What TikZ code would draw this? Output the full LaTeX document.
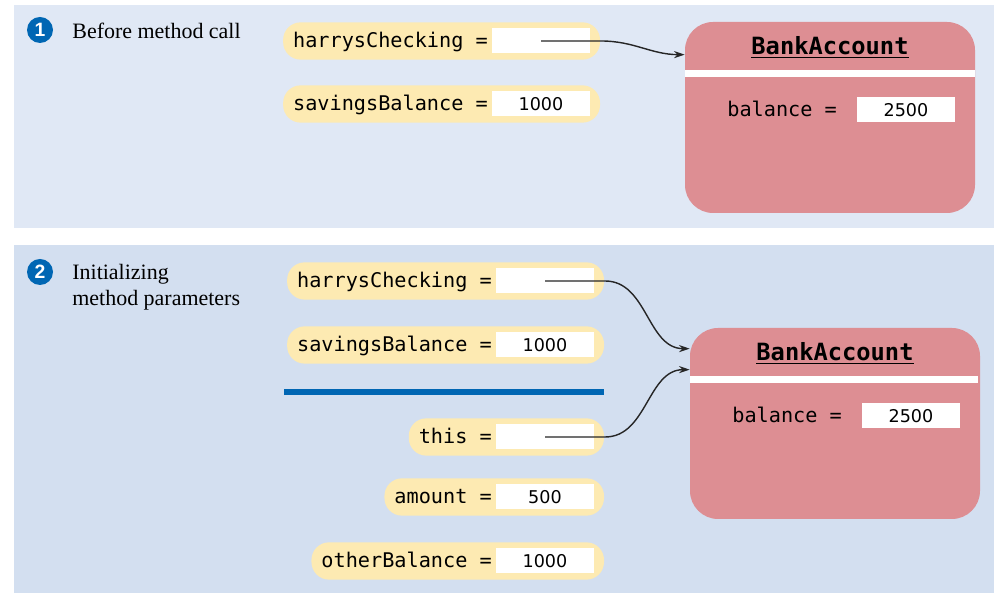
\documentclass[tikz,border=0pt]{standalone}
\usepackage{fontspec}
\setmainfont{Liberation Serif}
\newfontfamily\codefont{DejaVu Sans Mono}
\newfontfamily\valfont{DejaVu Sans}
\newfontfamily\stepfont{Liberation Sans}
\usetikzlibrary{arrows.meta, fit, backgrounds}

\definecolor{panelA}{RGB}{224,232,245}
\definecolor{panelB}{RGB}{211,223,240}
\definecolor{pillyellow}{RGB}{253,234,178}
\definecolor{acctred}{RGB}{221,142,147}
\definecolor{stepblue}{RGB}{0,102,179}
\def\px{0.02cm}

\pgfdeclarelayer{back}
\pgfsetlayers{back,background,main}

\begin{document}
\begin{tikzpicture}[x=\px, y=\px, >={Stealth[length=6pt, width=4pt]},
    pill/.style={fill=pillyellow, rounded corners=10pt, inner xsep=5.5pt, inner ysep=3.3pt},
    varname/.style={font=\codefont\fontsize{11.5}{13}\selectfont, inner sep=0pt, text height=9pt, text depth=2pt, anchor=east},
    valbox/.style={fill=white, minimum width=98*\px, minimum height=25*\px, inner sep=0pt, font=\valfont\fontsize{10}{12}\selectfont},
    acctbox/.style={fill=acctred, rounded corners=16pt, minimum width=290*\px, minimum height=191*\px},
    accttitle/.style={font=\codefont\bfseries\fontsize{13.5}{16}\selectfont, inner sep=0pt},
    ptr/.style={->, line width=0.8pt, black!85},
    stepnum/.style={circle, fill=stepblue, text=white, minimum size=26*\px, inner sep=0pt, font=\stepfont\bfseries\fontsize{11}{13}\selectfont},
    steptext/.style={font=\fontsize{12.5}{14.7}\selectfont, inner sep=0pt, align=left, anchor=north west}]

    \useasboundingbox (0,0) rectangle (998,594);

    % === 背景面板 ===
    \begin{pgfonlayer}{back}
    \fill[panelA] (14,366) rectangle (994,589);
    \fill[panelB] (14,1) rectangle (994,349);
    \end{pgfonlayer}

    % === 第一步：呼叫前 ===
    \node[stepnum] (step1) at (40,564) {1};
    \node[steptext] (note1) at (72,571) {Before method call};

    \foreach \nm/\y/\lab/\val in {hc1/553/harrysChecking =/{}, sb1/490/savingsBalance =/1000} {
        \node[valbox] (\nm-v) at (541,\y) {\val};
        \node[varname] (\nm-l) at ([xshift=-2pt]\nm-v.west) {\lab};
        \begin{pgfonlayer}{background}
        \node[pill, fit=(\nm-l)(\nm-v)] (\nm) {};
        \end{pgfonlayer}
    }

    % BankAccount 物件
    \node[acctbox] (acct1) at (830,476.5) {};
    \fill[white] (685,517) rectangle (975,524);
    \node[accttitle] (title1) at (830,547) {\underline{BankAccount}};
    \node[varname, anchor=west] (bal1-l) at (727,484) {balance =};
    \node[valbox] (bal1-v) at (906,484) {2500};

    \draw[ptr] (hc1-v.center) -- ++(60,0) to[out=0, in=180] ([yshift=-33*\px]acct1.north west);

    % === 第二步：參數初始化 ===
    \node[stepnum] (step2) at (40,322) {2};
    \node[steptext] (note2) at (72,330) {Initializing\\method parameters};

    \foreach \nm/\y/\lab/\val in {hc2/313/harrysChecking =/{}, sb2/249/savingsBalance =/1000,
                                  th2/157/this =/{}, am2/97/amount =/500, ob2/33/otherBalance =/1000} {
        \node[valbox] (\nm-v) at (545,\y) {\val};
        \node[varname] (\nm-l) at ([xshift=-2pt]\nm-v.west) {\lab};
        \begin{pgfonlayer}{background}
        \node[pill, fit=(\nm-l)(\nm-v)] (\nm) {};
        \end{pgfonlayer}
    }

    % 藍色分隔線
    \fill[stepblue] (284,199) rectangle (604,205);

    \begin{scope}[shift={(5,-306)}]
    \node[acctbox] (acct2) at (830,476.5) {};
    \fill[white] (685,517) rectangle (973,524);
    \node[accttitle] (title2) at (830,547) {\underline{BankAccount}};
    \node[varname, anchor=west] (bal2-l) at (727,484) {balance =};
    \node[valbox] (bal2-v) at (906,484) {2500};
    \end{scope}

    \draw[ptr] (hc2-v.center) -- ++(60,0) to[out=0, in=180] ([yshift=-21*\px]acct2.north west);
    \draw[ptr] (th2-v.center) -- ++(60,0) to[out=0, in=180] ([yshift=-42*\px]acct2.north west);

\end{tikzpicture}
\end{document}
